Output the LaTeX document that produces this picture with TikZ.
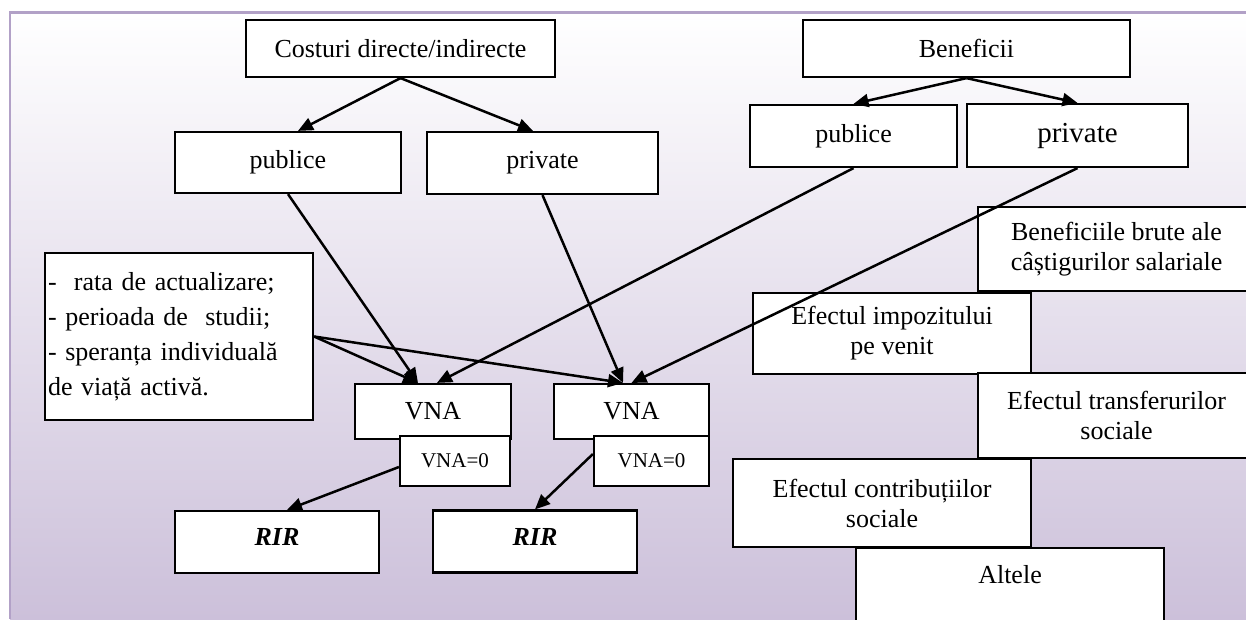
\documentclass[tikz,border=0pt]{standalone}
\usepackage{fontspec}
\setmainfont{Liberation Serif}
\usetikzlibrary{arrows.meta}
\definecolor{lavdark}{HTML}{B2A1C7}
\definecolor{lavlight}{HTML}{CCC0DA}

\begin{document}
\begin{tikzpicture}[
        x=1pt, y=-1pt,
        font=\fontsize{26}{30}\selectfont,
        box/.style={draw, fill=white, line width=2.2pt, inner sep=2pt, align=center},
        small/.style={font=\fontsize{21}{25}\selectfont},
        res/.style={box, font=\fontsize{26}{30}\selectfont\bfseries\itshape, text depth=10pt},
        ar/.style={-{Triangle[length=15pt,width=13pt]}, line width=2.5pt},
    ]
    \useasboundingbox (0,0) rectangle (1246,619);
    \clip (0,0) rectangle (1246,619);
    \shade[top color=white, bottom color=lavlight] (10,12.5) rectangle (1246,619);
    \draw[lavdark, line width=2.8pt] (10,619) -- (10,12.5) -- (1246,12.5);

    \node[box, minimum width=309pt, minimum height=57pt](costuri) at (400.5,48.5) {Costuri directe/indirecte};
    \node[box, minimum width=327pt, minimum height=57pt](benef) at (966.5,48.5) {Beneficii};

    \node[box, minimum width=226pt, minimum height=61pt](pubC) at (288,162.5) {publice};
    \node[box, minimum width=231pt, minimum height=62pt](privC) at (542.5,163) {private};
    \node[box, minimum width=207pt, minimum height=62pt](pubB) at (853.5,136) {publice};
    \node[box, minimum width=221pt, minimum height=63pt, font=\fontsize{29}{33}\selectfont](privB) at (1077.5,135.5) {private};

    \node[box, align=left, text width=262pt, inner xsep=3pt, minimum height=167pt,
        font=\fontsize{26}{35}\selectfont](factori) at (179,336.5)
        {-~ rata de actualizare;\\- perioada de~ studii;\\- speranța individuală\\de viață activă.};

    \node[box, minimum width=156pt, minimum height=55pt](vnaA) at (433,411.5) {VNA};
    \node[box, minimum width=155pt, minimum height=55pt](vnaB) at (631.5,411.5) {VNA};
    \node[box, small, minimum width=110pt, minimum height=50pt](vnazA) at (455,461) {VNA=0};
    \node[box, small, minimum width=115pt, minimum height=50pt](vnazB) at (651.5,461) {VNA=0};

    \node[res, minimum width=204pt, minimum height=62pt](rirA) at (277,542) {RIR};
    \node[res, minimum width=204pt, minimum height=62pt](rirB) at (535,541.5) {RIR};

    \node[box, minimum width=277pt, minimum height=84pt](brute) at (1116.5,249) {Beneficiile brute ale\\câștigurilor salariale};
    \node[box, minimum width=278pt, minimum height=81pt](impozit) at (892,333.5) {Efectul impozitului\\pe venit};
    \node[box, minimum width=277pt, minimum height=85pt](transf) at (1116.5,415.5) {Efectul transferurilor\\sociale};
    \node[box, minimum width=298pt, minimum height=88pt](contrib) at (882,503) {Efectul contribuțiilor\\sociale};
    \node[box, minimum width=308pt, inner ysep=0pt, text height=35pt, text depth=57pt](altele) at (1010,594) {Altele};

    \path[ar]
    (costuri.south) edge ([xshift=10pt]pubC.north) edge ([xshift=-9.5pt]privC.north)
    (benef.south) edge (pubB.north) edge (privB.north)

    (pubC.south) edge ([xshift=-15pt]vnaA.north)
    (privC.south) edge ([xshift=-8.5pt]vnaB.north)
    (pubB.south) edge ([xshift=4pt]vnaA.north)
    (privB.south) edge (vnaB.north)
    (factori.east) edge ([xshift=-15pt]vnaA.north) edge ([xshift=-8.5pt]vnaB.north)

    ([yshift=-6pt]vnazA.west) edge ([xshift=10pt]rirA.north)
    ([yshift=7pt]vnazB.west) edge (rirB.north)
    ;
\end{tikzpicture}
\end{document}
